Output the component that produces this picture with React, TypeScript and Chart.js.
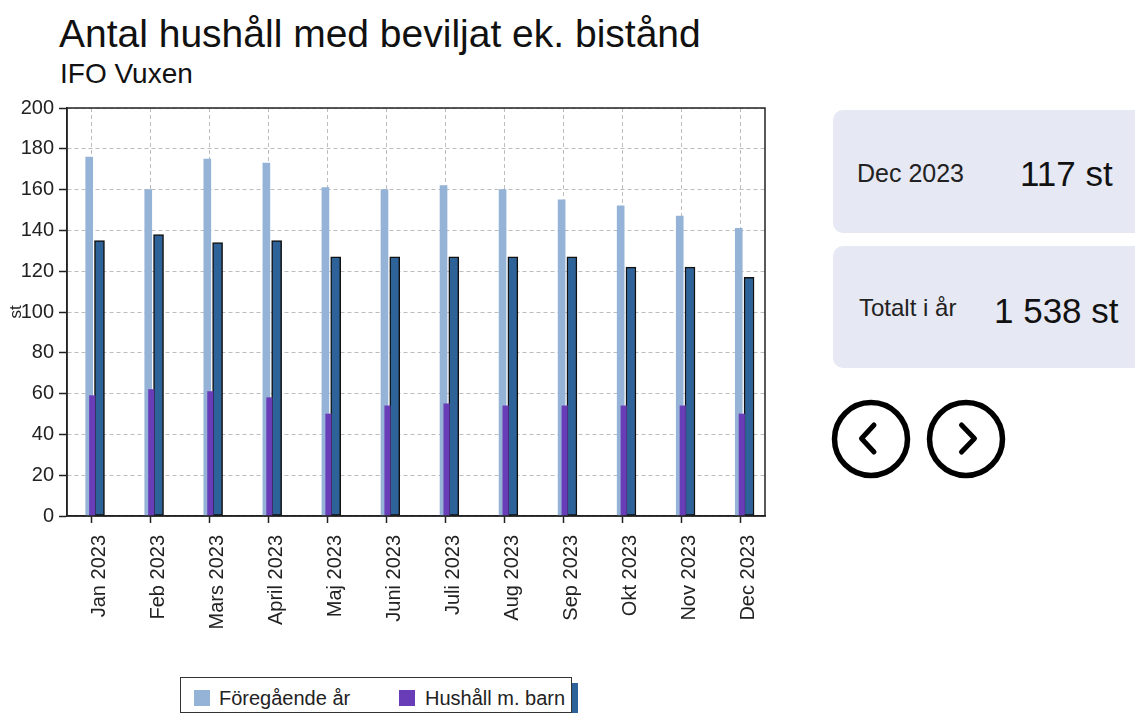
import React, { useEffect, useRef } from "react";
import { Chart, registerables } from "chart.js";

Chart.register(...registerables);

// ---- data ----
const months = [
  "Jan 2023", "Feb 2023", "Mars 2023", "April 2023", "Maj 2023", "Juni 2023",
  "Juli 2023", "Aug 2023", "Sep 2023", "Okt 2023", "Nov 2023", "Dec 2023",
];
const previousYear = [176, 160, 175, 173, 161, 160, 162, 160, 155, 152, 147, 141];
const currentYear = [135, 138, 134, 135, 127, 127, 127, 127, 127, 122, 122, 117];
const withChildren = [59, 62, 61, 58, 50, 54, 55, 54, 54, 54, 54, 50];
const yMin = 0;
const yMax = 200;
const yStep = 20;

const seriesLabels = ["Föregående år", "Hushåll m. barn", "Innevarande år"];

// ---- style ----
const FONT = '"Liberation Sans", Arial, sans-serif';
const LIGHT = "#95b3d7";
const PURPLE = "#6a3db8";
const DARK = "#2e6399";
const GRID = "#bdbdbd";
const AXIS = "#222";
const X_MIN = -0.41;
const X_MAX = months.length - 1 + 0.41;

Chart.defaults.font.family = FONT;
Chart.defaults.font.size = 19;
Chart.defaults.color = "#222";

const fmt = (n: number) => String(n).replace(/\B(?=(\d{3})+(?!\d))/g, " ");

const frame = {
  id: "frame",
  afterDraw(c: any) {
    const { ctx, chartArea } = c;
    ctx.save();
    ctx.strokeStyle = AXIS;
    ctx.lineWidth = 1.5;
    ctx.strokeRect(chartArea.left, chartArea.top, chartArea.right - chartArea.left, chartArea.bottom - chartArea.top);
    ctx.restore();
  },
};

function BarChart() {
  const ref = useRef<HTMLCanvasElement>(null);
  useEffect(() => {
    const el = ref.current;
    if (!el) return;
    const shifted = (dx: number) => ({
      type: "linear" as const,
      display: false,
      offset: false,
      min: X_MIN - dx,
      max: X_MAX - dx,
      grid: { display: false, offset: false },
    });
    const chart = new Chart(el, {
      type: "bar",
      data: {
        datasets: [
          {
            label: seriesLabels[1],
            data: withChildren.map((y, i) => ({ x: i, y })),
            backgroundColor: PURPLE,
            xAxisID: "xP",
            barThickness: 5.5,
            grouped: false,
            order: 1,
          },
          {
            label: seriesLabels[2],
            data: currentYear.map((y, i) => ({ x: i, y })),
            backgroundColor: DARK,
            borderColor: "#111",
            borderWidth: 1.5,
            borderSkipped: false,
            xAxisID: "xD",
            barThickness: 10,
            grouped: false,
            order: 2,
          },
          {
            label: seriesLabels[0],
            data: previousYear.map((y, i) => ({ x: i, y })),
            backgroundColor: LIGHT,
            xAxisID: "xL",
            barThickness: 7,
            grouped: false,
            order: 3,
          },
        ] as any,
      },
      options: {
        animation: false,
        responsive: false,
        layout: { padding: { top: 108, right: 35, left: 0, bottom: 0 } },
        plugins: { legend: { display: false }, tooltip: { enabled: false } },
        scales: {
          x: {
            type: "linear",
            offset: false,
            min: X_MIN,
            max: X_MAX,
            afterBuildTicks: (ax: any) => {
              ax.ticks = months.map((_, i) => ({ value: i }));
            },
            afterFit: (ax: any) => {
              ax.height = 144;
            },
            grid: { offset: false, color: GRID, lineWidth: 1, tickColor: AXIS, tickLength: 7, tickWidth: 1.5 },
            border: { color: AXIS, width: 1.5, dash: [4, 3] },
            ticks: {
              callback: (v: any) => months[v],
              minRotation: 90,
              maxRotation: 90,
              autoSkip: false,
              padding: 12,
              labelOffset: 8,
              color: "#222",
              font: { family: FONT, size: 20 },
            },
          },
          xL: shifted(-0.034),
          xP: shifted(0.017),
          xD: shifted(0.14),
          y: {
            type: "linear",
            position: "left",
            min: yMin,
            max: yMax,
            afterFit: (ax: any) => {
              ax.width = 67;
            },
            grid: { color: GRID, lineWidth: 1, tickColor: AXIS, tickLength: 8, tickWidth: 1.5 },
            border: { color: AXIS, width: 1.5, dash: [4, 3] },
            ticks: {
              stepSize: yStep,
              padding: 5,
              color: "#222",
              font: () => ({ family: FONT, size: 20 }),
            },
            title: {
              display: true,
              text: "st",
              color: "#222",
              padding: { top: 6, bottom: 0 },
              font: { family: FONT, size: 17 },
            },
          },
        } as any,
      },
      plugins: [frame],
    });
    return () => chart.destroy();
  }, []);
  return <canvas ref={ref} width={800} height={660} style={{ position: "absolute", left: 0, top: 0 }} />;
}

const abs = (left: number, top: number, size: number, extra: any = {}) => ({
  position: "absolute" as const,
  left,
  top,
  fontSize: size,
  lineHeight: `${size}px`,
  whiteSpace: "nowrap" as const,
  ...extra,
});

export default function App() {
  const lastIdx = months.length - 1;
  const total = currentYear.reduce((a, b) => a + b, 0);
  const card = (top: number, height: number) => ({
    position: "absolute" as const,
    left: 833,
    top,
    width: 330,
    height,
    borderRadius: 10,
    background: "#e6e8f3",
  });
  return (
    <div
      style={{
        position: "absolute",
        left: 0,
        top: 0,
        width: 1135,
        height: 713,
        overflow: "hidden",
        fontFamily: FONT,
        color: "#111",
        background: "#fff",
      }}
    >
      <div style={abs(59, 14, 39)}>Antal hushåll med beviljat ek. bistånd</div>
      <div style={abs(60, 60, 28)}>IFO Vuxen</div>

      <BarChart />

      <div style={card(110, 123)} />
      <div style={card(246, 122)} />
      <div style={abs(857, 161, 25, { color: "#222" })}>{months[lastIdx]}</div>
      <div style={abs(1020, 156, 35, { color: "#111" })}>{fmt(currentYear[lastIdx])} st</div>
      <div style={abs(859, 296, 24, { color: "#222" })}>Totalt i år</div>
      <div style={abs(994, 293, 35, { color: "#111" })}>{fmt(total)} st</div>

      <svg style={{ position: "absolute", left: 831, top: 399 }} width={80} height={80}>
        <circle cx={40} cy={40} r={36.5} fill="none" stroke="#000" strokeWidth={5.5} />
        <polyline points="43,26 30.5,39.5 43,53" fill="none" stroke="#000" strokeWidth={5} strokeLinecap="round" strokeLinejoin="round" />
      </svg>
      <svg style={{ position: "absolute", left: 925.5, top: 399 }} width={80} height={80}>
        <circle cx={40} cy={40} r={36.5} fill="none" stroke="#000" strokeWidth={5.5} />
        <polyline points="35.5,26 48.5,39.5 35.5,53" fill="none" stroke="#000" strokeWidth={5} strokeLinecap="round" strokeLinejoin="round" />
      </svg>

      <div style={{ position: "absolute", left: 571, top: 683, width: 7, height: 30, background: DARK }} />
      <div
        style={{
          position: "absolute",
          left: 180,
          top: 677,
          width: 392,
          height: 36,
          border: "1.5px solid #333",
          boxSizing: "border-box",
          background: "#fff",
        }}
      />
      <div style={{ position: "absolute", left: 194, top: 690, width: 16, height: 16, background: LIGHT }} />
      <div style={abs(219, 688, 20, { color: "#222" })}>{seriesLabels[0]}</div>
      <div style={{ position: "absolute", left: 399, top: 690, width: 16, height: 16, background: PURPLE }} />
      <div style={abs(425, 688, 20, { color: "#222" })}>{seriesLabels[1]}</div>
    </div>
  );
}
